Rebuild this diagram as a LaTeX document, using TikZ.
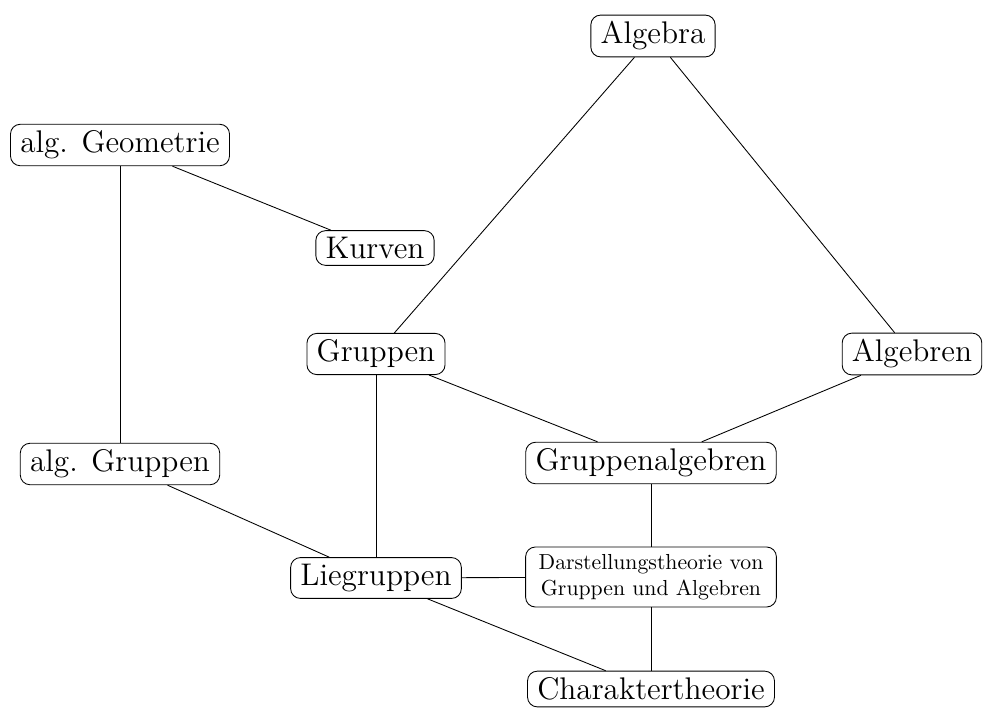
\documentclass[tikz,border=0pt]{standalone}
\begin{document}
\begin{tikzpicture}[x=0.46pt,y=-0.46pt,
  box/.style={draw, rounded corners=4.5pt, font=\Large, inner xsep=4.5pt, inner ysep=3pt},
  smallbox/.style={draw, rounded corners=4.5pt, font=\normalsize, align=center, inner xsep=6pt, inner ysep=3.3pt}]
\useasboundingbox (0,0) rectangle (983,709);
\node[box] (alg) at (653,36) {Algebra};
\node[box] (geo) at (120,145) {alg. Geometrie};
\node[box] (kur) at (375,248) {Kurven};
\node[box] (grp) at (376,354) {Gruppen};
\node[box] (agb) at (912,354) {Algebren};
\node[box] (agr) at (120,464) {alg. Gruppen};
\node[box] (gal) at (651,463) {Gruppenalgebren};
\node[box] (lie) at (376,578) {Liegruppen};
\node[smallbox] (dar) at (651,577) {Darstellungstheorie von\\Gruppen und Algebren};
\node[box] (cha) at (651,689) {Charaktertheorie};
\draw (alg) -- (grp);
\draw (alg) -- (agb);
\draw (geo) -- (kur);
\draw (geo) -- (agr);
\draw (grp) -- (gal);
\draw (agb) -- (gal);
\draw (grp) -- (lie);
\draw (agr) -- (lie);
\draw (gal) -- (dar);
\draw (lie) -- (dar);
\draw (lie) -- (cha);
\draw (dar) -- (cha);
\end{tikzpicture}
\end{document}
